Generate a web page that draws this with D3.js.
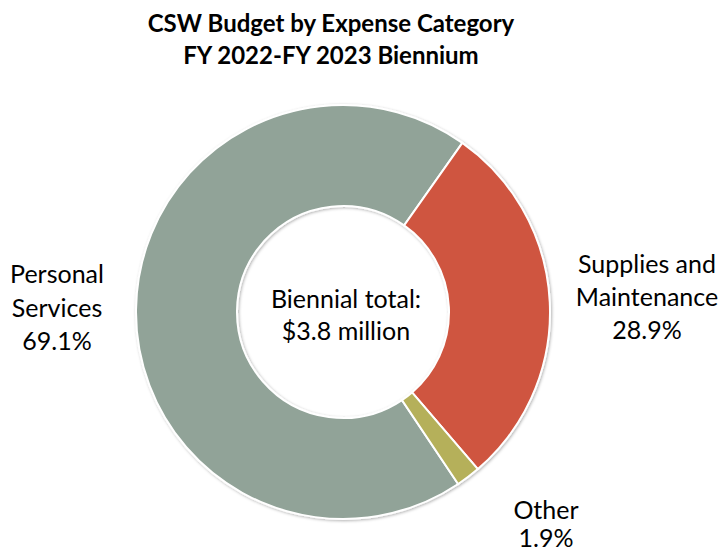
<!DOCTYPE html>
<html>
<head>
<meta charset="utf-8">
<script src="https://cdn.jsdelivr.net/npm/d3@7"></script>
<style>
  body { margin: 0; background: #fff; }
  text { font-family: Lato, "Open Sans", sans-serif; fill: #000; }
</style>
</head>
<body>
<div id="chart"></div>
<script>
// chart data
let categories = ["Personal Services", "Supplies and Maintenance", "Other"];
let shares = [69.1, 28.9, 1.9];
let labelLines = [["Personal", "Services", "69.1%"], ["Supplies and", "Maintenance", "28.9%"], ["Other", "1.9%"]];
let colors = ["#91a398", "#cf553f", "#b5b05a"];
let titleLines = ["CSW Budget by Expense Category", "FY 2022-FY 2023 Biennium"];
let centerLines = ["Biennial total:", "$3.8 million"];

let svgWidth = 719;
let svgHeight = 554;

let svg = d3.select("#chart")
  .append("svg")
  .attr("width", svgWidth)
  .attr("height", svgHeight);

let defs = svg.append("defs");
let shadow = defs.append("filter").attr("id", "shadow")
  .attr("x", "-10%").attr("y", "-10%").attr("width", "120%").attr("height", "120%");
shadow.append("feDropShadow")
  .attr("dx", 1).attr("dy", 1).attr("stdDeviation", 1.5)
  .attr("flood-color", "#000").attr("flood-opacity", 0.3);

// title
svg.append("g").selectAll("text")
  .data(titleLines)
  .enter()
  .append("text")
  .attr("x", 331)
  .attr("y", (d, i) => 32 + i * 32)
  .attr("text-anchor", "middle")
  .attr("font-size", "24px")
  .attr("font-weight", "bold")
  .text(d => d);

let cx = 343, cy = 312;
let outerR = 207, innerR = 106;

// order around the ring: Personal starts at ~146 deg clockwise from top
let startDeg = 146.2;
let pie = d3.pie()
  .sort(null)
  .startAngle(startDeg * Math.PI / 180)
  .endAngle((startDeg + 360) * Math.PI / 180);

let arc = d3.arc().innerRadius(innerR).outerRadius(outerR);

let ring = svg.append("g")
  .attr("transform", `translate(${cx}, ${cy})`)
  .attr("filter", "url(#shadow)");

ring.selectAll("path")
  .data(pie(shares))
  .enter()
  .append("path")
  .attr("d", arc)
  .attr("fill", (d, i) => colors[i])
  .attr("stroke", "#fff")
  .attr("stroke-width", 2);

// slice labels
let labelPos = [[57, 283, 33.5], [647, 273, 33], [546, 519, 28]];
labelLines.forEach(function(lines, i) {
  svg.append("g").selectAll("text")
    .data(lines)
    .enter()
    .append("text")
    .attr("x", labelPos[i][0])
    .attr("y", (d, j) => labelPos[i][1] + j * labelPos[i][2])
    .attr("text-anchor", "middle")
    .attr("font-size", "25px")
    .text(d => d);
});

// center label
svg.append("g").selectAll("text")
  .data(centerLines)
  .enter()
  .append("text")
  .attr("x", 346)
  .attr("y", (d, i) => 308 + i * 32)
  .attr("text-anchor", "middle")
  .attr("font-size", "25px")
  .text(d => d);
</script>
</body>
</html>
